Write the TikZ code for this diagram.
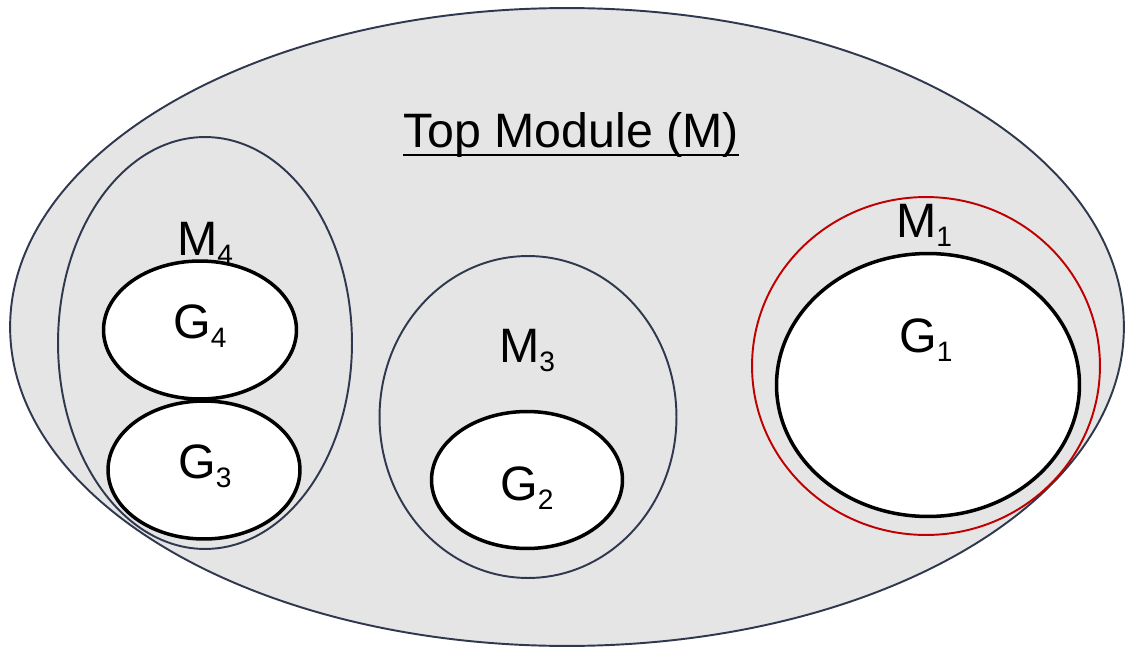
\documentclass[tikz,border=0pt]{standalone}
\usepackage{fontspec}
\setmainfont{Liberation Sans}
\usepackage{tikz}
\usetikzlibrary{shapes.geometric}
\usepackage{xcolor}
\definecolor{modline}{RGB}{47,56,78}
\definecolor{modred}{RGB}{192,0,0}
\definecolor{modfill}{RGB}{229,229,229}
\newcommand{\idx}[1]{\raisebox{-0.2em}{\fontsize{16}{16}\selectfont #1}}

\begin{document}
\begin{tikzpicture}[
    x=0.02cm, y=-0.02cm,
    every node/.style={font=\fontsize{27.5}{32}\selectfont},
    module/.style={ellipse, draw=modline, line width=1.1pt, inner sep=0pt},
    graphnode/.style={ellipse, draw=black, fill=white, line width=2pt, inner sep=0pt},
    lbl/.style={anchor=base, inner sep=0pt}
  ]
  \useasboundingbox (0,0) rectangle (1127,649);
  % top module
  \node[module, fill=modfill, minimum width=22.28cm, minimum height=12.76cm] (top) at (567,327) {};
  \node[lbl] (toplbl) at (571,147) {Top Module (M)};
  \draw[line width=1.6pt] ([yshift=-0.16cm]toplbl.base west) -- ([yshift=-0.16cm]toplbl.base east);
  % sub modules
  \node[module, minimum width=5.88cm, minimum height=8.24cm] (m4) at (205,343) {};
  \node[module, minimum width=5.94cm, minimum height=6.44cm] (m3) at (528,417) {};
  \node[module, draw=modred, minimum width=6.96cm, minimum height=6.76cm] (m1) at (926,366) {};
  % graphs
  \node[graphnode, minimum width=3.86cm, minimum height=2.76cm] (g4) at (200,330) {};
  \node[graphnode, minimum width=3.84cm, minimum height=2.76cm] (g3) at (204,470) {};
  \node[graphnode, minimum width=3.82cm, minimum height=2.74cm] (g2) at (527,480) {};
  \node[graphnode, minimum width=6.06cm, minimum height=5.26cm] (g1) at (928,385) {};
  % labels
  \foreach \nm/\x/\y/\txt in {
    m4lbl/205/255/M\idx{4},
    m3lbl/527/362/M\idx{3},
    m1lbl/924/237/M\idx{1},
    g4lbl/200/338/G\idx{4},
    g3lbl/205/478/G\idx{3},
    g2lbl/527/500/G\idx{2},
    g1lbl/926/352/G\idx{1}
  }{
    \node[lbl] (\nm) at (\x,\y) {\txt};
  }
\end{tikzpicture}
\end{document}
